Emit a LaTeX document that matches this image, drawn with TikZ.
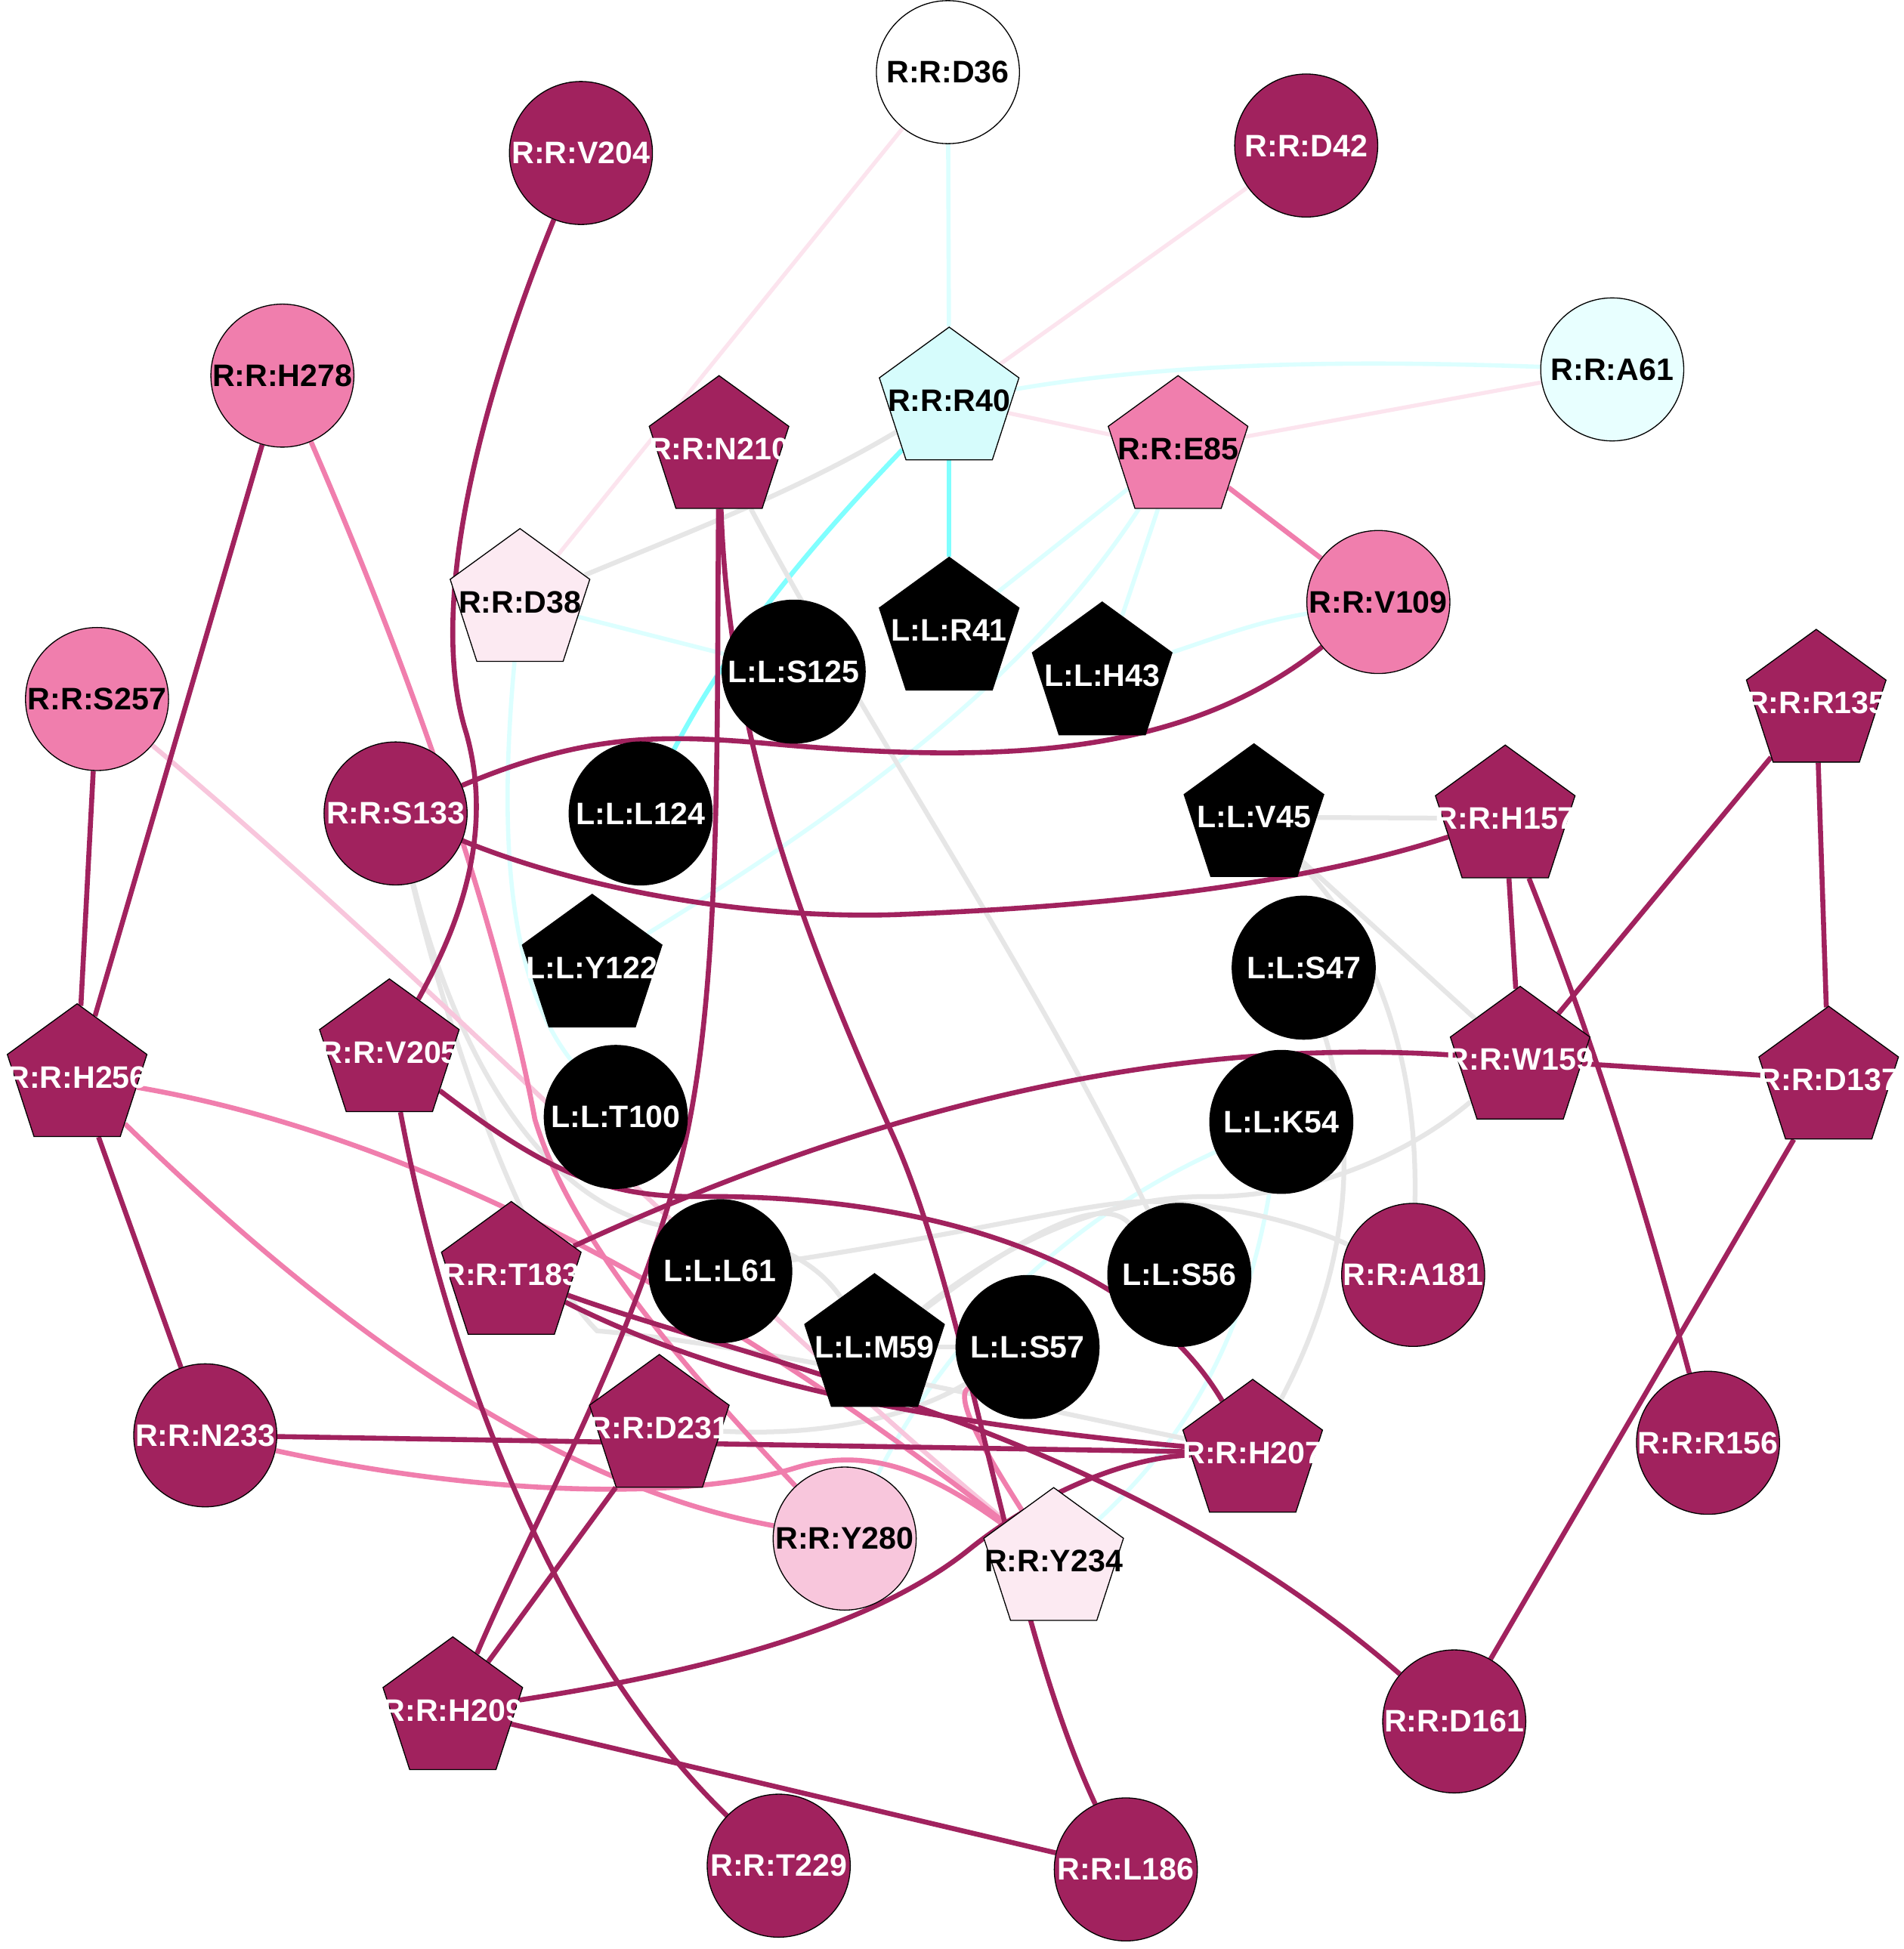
\documentclass[tikz,border=0pt]{standalone}
\usepackage{fontspec}
\setmainfont{Liberation Sans}
\usetikzlibrary{shapes.geometric}
\pgfdeclarelayer{bg}
\pgfdeclarelayer{edges}
\pgfsetlayers{bg,edges,main}
\definecolor{mag}{RGB}{161,34,94}
\definecolor{pk}{RGB}{240,126,173}
\definecolor{lpk}{RGB}{248,198,220}
\definecolor{vlpk}{RGB}{252,234,242}
\definecolor{vlpke}{RGB}{252,228,238}
\definecolor{gr}{RGB}{230,230,230}
\definecolor{cy}{RGB}{128,255,255}
\definecolor{lcy}{RGB}{220,255,255}
\definecolor{rfc}{RGB}{214,252,252}
\definecolor{afc}{RGB}{232,255,255}
\begin{document}
\begin{tikzpicture}[x=1pt,y=-1pt,
  lb/.style={font=\fontsize{25}{29}\selectfont\bfseries, inner sep=0pt},
  lw/.style={label={[lb,text=white]center:{#1}}},
  lk/.style={label={[lb,text=black]center:{#1}}},
  circ/.style={circle, minimum size=115pt, inner sep=0pt, draw=black, line width=0.8pt},
  pent/.style={regular polygon, regular polygon sides=5, minimum size=118pt, inner sep=0pt, draw=black, line width=0.8pt},
  emag/.style={draw=mag, line width=4pt},
  epk/.style={draw=pk, line width=4pt},
  elpk/.style={draw=lpk, line width=3.8pt},
  evlpk/.style={draw=vlpke, line width=3.2pt},
  egr/.style={draw=gr, line width=3.8pt},
  ecy/.style={draw=cy, line width=3.8pt},
  elcy/.style={draw=lcy, line width=3.4pt}]
\begin{pgfonlayer}{bg}
\fill[white] (0,0) rectangle (1530,1567);
\end{pgfonlayer}
\useasboundingbox (0,0) rectangle (1530,1567);
% circles
\node[circ, fill=white, lk={R:R:D36}] (D36) at (762,58) {};
\node[circ, fill=mag, lw={R:R:V204}] (V204) at (467,123) {};
\node[circ, fill=mag, lw={R:R:D42}] (D42) at (1050,117) {};
\node[circ, fill=pk, lk={R:R:H278}] (H278) at (227,302) {};
\node[circ, fill=afc, lk={R:R:A61}] (A61) at (1296,297) {};
\node[circ, fill=pk, lk={R:R:V109}] (V109) at (1108,484) {};
\node[circ, fill=pk, lk={R:R:S257}] (S257) at (78,562) {};
\node[circ, fill=mag, lw={R:R:S133}] (S133) at (318,654) {};
\node[circ, fill=black, lw={L:L:S125}] (S125) at (638,540) {};
\node[circ, fill=black, lw={L:L:L124}] (L124) at (515,654) {};
\node[circ, fill=black, lw={L:L:S47}] (S47) at (1048,778) {};
\node[circ, fill=black, lw={L:L:T100}] (T100) at (495,898) {};
\node[circ, fill=black, lw={L:L:K54}] (K54) at (1030,902) {};
\node[circ, fill=black, lw={L:L:L61}] (L61) at (579,1022) {};
\node[circ, fill=black, lw={L:L:S56}] (S56) at (948,1025) {};
\node[circ, fill=mag, lw={R:R:A181}] (A181) at (1136,1025) {};
\node[circ, fill=black, lw={L:L:S57}] (S57) at (826,1083) {};
\node[circ, fill=mag, lw={R:R:N233}] (N233) at (165,1154) {};
\node[circ, fill=mag, lw={R:R:R156}] (R156) at (1373,1160) {};
\node[circ, fill=lpk, lk={R:R:Y280}] (Y280) at (679,1237) {};
\node[circ, fill=mag, lw={R:R:D161}] (D161) at (1169,1384) {};
\node[circ, fill=mag, lw={R:R:T229}] (T229) at (626,1500) {};
\node[circ, fill=mag, lw={R:R:L186}] (L186) at (905,1503) {};
% pentagons
\node[pent, fill=rfc, lk={R:R:R40}] (R40) at (763,322) {};
\node[pent, fill=mag, lw={R:R:N210}] (N210) at (578,361) {};
\node[pent, fill=pk, lk={R:R:E85}] (E85) at (947,361) {};
\node[pent, fill=vlpk, lk={R:R:D38}] (D38) at (418,484) {};
\node[pent, fill=black, lw={L:L:R41}] (R41) at (763,507) {};
\node[pent, fill=black, lw={L:L:H43}] (H43) at (886,543) {};
\node[pent, fill=mag, lw={R:R:R135}] (R135) at (1460,565) {};
\node[pent, fill=black, lw={L:L:V45}] (V45) at (1008,657) {};
\node[pent, fill=mag, lw={R:R:H157}] (H157) at (1210,658) {};
\node[pent, fill=black, lw={L:L:Y122}] (Y122) at (476,778) {};
\node[pent, fill=mag, lw={R:R:V205}] (V205) at (313,846) {};
\node[pent, fill=mag, lw={R:R:H256}] (H256) at (62,866) {};
\node[pent, fill=mag, lw={R:R:W159}] (W159) at (1222,852) {};
\node[pent, fill=mag, lw={R:R:D137}] (D137) at (1470,868) {};
\node[pent, fill=mag, lw={R:R:T183}] (T183) at (411,1025) {};
\node[pent, fill=black, lw={L:L:M59}] (M59) at (703,1083) {};
\node[pent, fill=mag, lw={R:R:D231}] (D231) at (530,1148) {};
\node[pent, fill=mag, lw={R:R:H207}] (H207) at (1007,1168) {};
\node[pent, fill=vlpk, lk={R:R:Y234}] (Y234) at (847,1255) {};
\node[pent, fill=mag, lw={R:R:H209}] (H209) at (364,1375) {};
\begin{pgfonlayer}{edges}
% very light pink
\draw[evlpk] (D36) -- (D38);
\draw[evlpk] (D42) -- (R40);
\draw[evlpk] (R40) -- (E85);
\draw[evlpk] (E85) -- (A61);
% light cyan
\draw[elcy] (D36) -- (R40);
\draw[elcy] (R40) .. controls (950,290) and (1100,290) .. (A61);
\draw[elcy] (E85) -- (R41);
\draw[elcy] (E85) -- (H43);
\draw[elcy] (E85) .. controls (830,540) and (700,640) .. (Y122);
\draw[elcy] (H43) .. controls (980,512) and (1010,500) .. (V109);
\draw[elcy] (D38) -- (S125);
\draw[elcy] (D38) .. controls (400,680) and (410,790) .. (T100);
\draw[elcy] (K54) .. controls (1000,1080) and (950,1160) .. (Y234);
\draw[elcy] (K54) .. controls (870,975) and (770,1060) .. (Y280);
% cyan
\draw[ecy] (R40) -- (R41);
\draw[ecy] (R40) .. controls (660,430) and (590,510) .. (L124);
% gray
\draw[egr] (R40) .. controls (640,395) and (560,425) .. (D38);
\draw[egr] (N210) .. controls (700,590) and (830,780) .. (S56);
\draw[egr] (V45) -- (H157);
\draw[egr] (V45) -- (W159);
\draw[egr] (V45) .. controls (1110,760) and (1140,860) .. (A181);
\draw[egr] (S47) .. controls (1095,930) and (1080,1030) .. (H207);
\draw[egr] (M59) .. controls (820,990) and (900,962) .. (970,962) .. controls (1050,963) and (1130,930) .. (W159);
\draw[egr] (L61) .. controls (800,988) and (880,965) .. (925,966) .. controls (990,968) and (1050,985) .. (A181);
\draw[egr] (M59) .. controls (800,1010) and (880,955) .. (S56);
\draw[egr] (S133) .. controls (370,860) and (440,965) .. (530,985) .. controls (600,990) and (650,1005) .. (M59);
\draw[egr] (S133) .. controls (370,870) and (430,1020) .. (480,1070) .. controls (600,1080) and (800,1125) .. (H207);
\draw[egr] (D231) .. controls (660,1155) and (730,1140) .. (S57);
\draw[egr] (M59) -- (S57);
% pink
\draw[epk] (E85) -- (V109);
\draw[elpk] (S257) .. controls (350,790) and (600,1050) .. (Y234);
\draw[epk] (H278) .. controls (330,540) and (400,740) .. (430,900) .. controls (460,1000) and (560,1110) .. (Y280);
\draw[epk] (H256) .. controls (230,1030) and (420,1190) .. (Y280);
\draw[epk] (H256) .. controls (320,910) and (560,1030) .. (Y234);
\draw[epk] (N233) .. controls (400,1205) and (560,1205) .. (640,1180) .. controls (700,1162) and (750,1185) .. (Y234);
\draw[epk] (S57) .. controls (765,1125) and (800,1180) .. (Y234);
% magenta
\draw[emag] (V204) .. controls (395,300) and (340,480) .. (375,590) .. controls (400,680) and (360,760) .. (V205);
\draw[emag] (H278) -- (H256);
\draw[emag] (S257) -- (H256);
\draw[emag] (S133) .. controls (470,590) and (530,590) .. (620,598) .. controls (800,614) and (950,610) .. (V109);
\draw[emag] (S133) .. controls (480,720) and (620,740) .. (729,735) .. controls (900,728) and (1050,710) .. (H157);
\draw[emag] (N210) .. controls (576,600) and (580,800) .. (548,930) .. controls (510,1080) and (430,1220) .. (H209);
\draw[emag] (N210) .. controls (586,600) and (650,760) .. (717,911) .. controls (780,1050) and (810,1300) .. (L186);
\draw[emag] (R135) -- (W159);
\draw[emag] (R135) -- (D137);
\draw[emag] (H157) -- (W159);
\draw[emag] (H157) .. controls (1290,860) and (1330,1000) .. (R156);
\draw[emag] (W159) -- (D137);
\draw[emag] (T183) .. controls (650,915) and (900,830) .. (W159);
\draw[emag] (D137) -- (D161);
\draw[emag] (H256) -- (N233);
\draw[emag] (V205) .. controls (430,935) and (480,963) .. (560,962) .. controls (760,960) and (920,1020) .. (H207);
\draw[emag] (V205) .. controls (360,1100) and (450,1330) .. (T229);
\draw[emag] (T183) .. controls (560,1100) and (700,1140) .. (H207);
\draw[emag] (T183) .. controls (620,1100) and (900,1150) .. (D161);
\draw[emag] (N233) -- (H207);
\draw[emag] (D231) -- (H209);
\draw[emag] (H209) .. controls (560,1345) and (700,1310) .. (780,1245) .. controls (830,1205) and (900,1172) .. (H207);
\draw[emag] (H209) -- (L186);
\end{pgfonlayer}
\end{tikzpicture}
\end{document}
